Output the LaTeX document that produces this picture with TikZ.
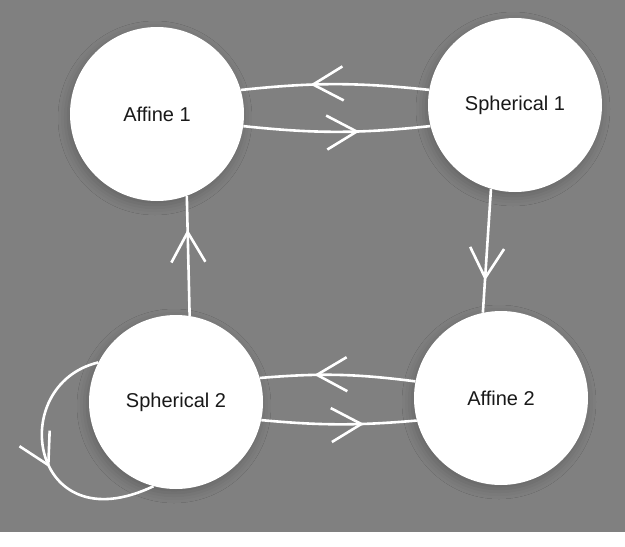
\documentclass[tikz,border=0pt]{standalone}
\usepackage{fontspec}
\setmainfont{Liberation Sans}
\usetikzlibrary{automata, positioning, arrows.meta, decorations.markings, shadows.blur}
\definecolor{canvas}{RGB}{128,128,128}
\definecolor{ink}{RGB}{25,25,25}
\tikzset{
    node distance=358pt, % centre to centre of the top two states
    every state/.style={draw=none, fill=white, minimum size=174pt, inner sep=0pt, text=ink,
        font=\fontsize{20}{24}\selectfont,
        blur shadow={shadow xshift=-2pt, shadow yshift=-4pt, shadow blur radius=10pt, shadow opacity=22}}, % white discs
    link/.style={white, line width=2.6pt}, % the connectors
    midarrow/.style={postaction={decorate, decoration={markings,
        mark=at position #1 with {\arrow{Straight Barb[length=30pt, width=34pt, line width=2.6pt]}}}}},
}

\begin{document}
\begin{tikzpicture}[x=1pt, y=-1pt]
\fill[canvas] (0,0) rectangle (625,532);
\node[state] (a1) at (157,114) {Affine 1};
\node[state, right of=a1, yshift=9pt] (s1) {Spherical 1};
\node[state, below of=a1, node distance=288pt, xshift=19pt] (s2) {Spherical 2};
\node[state, below of=s1, node distance=293pt, xshift=-14pt] (a2) {Affine 2};

\draw[link] (s1.170) edge[bend right=6, midarrow=0.63] (a1.16)
(a1.-8) edge[bend right=6, midarrow=0.62] (s1.-166)
(s2.81) edge[midarrow=0.72] (a1.-70)
(s1.-106) edge[midarrow=0.74] (a2.102)
(a2.169) edge[bend right=6, midarrow=0.65] (s2.16)
(s2.-12) edge[bend right=5, midarrow=0.66] (a2.-165);
\draw[link, midarrow=0.53] (s2.153) .. controls (5,385) and (30,545) .. (s2.255);

\end{tikzpicture}
\end{document}
